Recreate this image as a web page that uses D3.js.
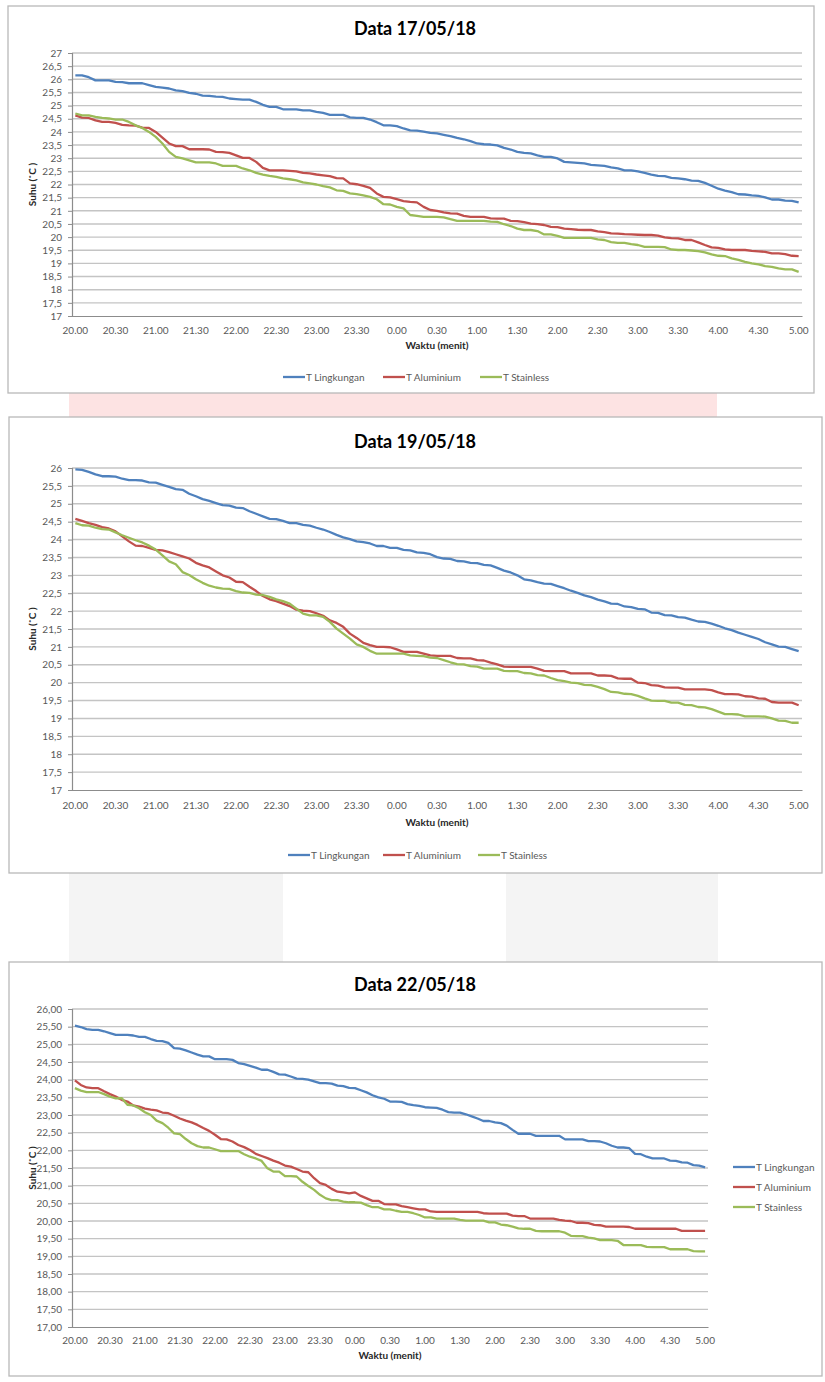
<!DOCTYPE html>
<html>
<head>
<meta charset="utf-8">
<script src="https://cdn.jsdelivr.net/npm/d3@7"></script>
<style>
  body { margin: 0; background: #ffffff; }
  svg { display: block; font-family: Lato, "Open Sans", "Liberation Sans", sans-serif; }
</style>
</head>
<body>
<svg id="page" width="825" height="1382"></svg>
<script>
// Time axis: one reading every 5 minutes from 20.00 to 05.00
const minutes = d3.range(0, 541, 5);
const tickLabels = ["20.00","20.30","21.00","21.30","22.00","22.30","23.00","23.30",
  "0.00","0.30","1.00","1.30","2.00","2.30","3.00","3.30","4.00","4.30","5.00"];

const seriesNames = ["T Lingkungan", "T Aluminium", "T Stainless"];
const seriesColors = ["#4F81BD", "#C0504D", "#9BBB59"];

// 17/05/18
const lingkungan17 = [
  26.15,26.15,26.08,25.96,25.96,25.96,25.90,25.89,25.85,25.85,25.85,25.78,
  25.71,25.68,25.65,25.58,25.55,25.48,25.45,25.38,25.37,25.34,25.33,25.27,
  25.25,25.23,25.23,25.14,25.03,24.95,24.95,24.86,24.86,24.86,24.82,24.82,
  24.76,24.72,24.65,24.65,24.65,24.55,24.53,24.53,24.47,24.37,24.25,24.25,
  24.22,24.13,24.06,24.05,24.01,23.96,23.94,23.89,23.84,23.77,23.72,23.65,
  23.56,23.53,23.52,23.49,23.39,23.33,23.24,23.20,23.18,23.11,23.05,23.05,
  22.99,22.86,22.84,22.82,22.80,22.75,22.73,22.71,22.65,22.61,22.54,22.54,
  22.50,22.44,22.38,22.33,22.32,22.25,22.23,22.20,22.15,22.14,22.06,21.95,
  21.84,21.77,21.71,21.63,21.62,21.59,21.57,21.51,21.43,21.43,21.39,21.38,
  21.32];
const aluminium17 = [
  24.63,24.54,24.53,24.44,24.38,24.38,24.34,24.27,24.25,24.24,24.16,24.15,
  24.00,23.78,23.56,23.46,23.46,23.34,23.34,23.34,23.33,23.24,23.23,23.20,
  23.11,23.01,23.01,22.86,22.63,22.54,22.54,22.54,22.52,22.50,22.44,22.42,
  22.38,22.35,22.32,22.24,22.23,22.04,22.01,21.95,21.87,21.66,21.53,21.51,
  21.44,21.37,21.34,21.32,21.15,21.03,21.00,20.94,20.90,20.89,20.81,20.77,
  20.77,20.77,20.71,20.70,20.70,20.62,20.61,20.57,20.51,20.49,20.46,20.39,
  20.38,20.32,20.30,20.28,20.27,20.27,20.22,20.19,20.14,20.13,20.11,20.10,
  20.09,20.08,20.08,20.06,19.99,19.96,19.95,19.89,19.89,19.80,19.70,19.61,
  19.59,19.53,19.51,19.51,19.51,19.48,19.46,19.44,19.38,19.38,19.35,19.29,
  19.28];
const stainless17 = [
  24.70,24.63,24.63,24.57,24.53,24.51,24.47,24.47,24.38,24.25,24.15,24.00,
  23.81,23.56,23.24,23.05,22.99,22.92,22.84,22.84,22.84,22.80,22.71,22.71,
  22.71,22.61,22.54,22.44,22.38,22.33,22.29,22.23,22.20,22.16,22.08,22.04,
  22.00,21.94,21.89,21.78,21.76,21.66,21.63,21.59,21.53,21.44,21.25,21.24,
  21.15,21.09,20.84,20.81,20.77,20.77,20.77,20.75,20.68,20.62,20.62,20.62,
  20.62,20.62,20.59,20.58,20.49,20.42,20.32,20.27,20.27,20.23,20.10,20.10,
  20.05,19.97,19.97,19.97,19.97,19.97,19.91,19.89,19.81,19.78,19.78,19.73,
  19.70,19.63,19.63,19.63,19.62,19.53,19.51,19.51,19.49,19.47,19.42,19.34,
  19.29,19.28,19.19,19.13,19.06,19.00,18.96,18.90,18.87,18.81,18.77,18.77,
  18.68];

// 19/05/18
const lingkungan19 = [
  25.96,25.95,25.89,25.82,25.77,25.77,25.76,25.70,25.66,25.66,25.65,25.60,
  25.59,25.53,25.47,25.41,25.39,25.28,25.21,25.13,25.08,25.02,24.96,24.95,
  24.89,24.88,24.79,24.72,24.65,24.58,24.57,24.52,24.46,24.46,24.41,24.39,
  24.33,24.28,24.21,24.13,24.06,24.01,23.95,23.93,23.89,23.82,23.82,23.77,
  23.77,23.71,23.70,23.64,23.63,23.59,23.51,23.47,23.46,23.40,23.39,23.35,
  23.34,23.29,23.28,23.21,23.13,23.08,23.00,22.89,22.86,22.81,22.77,22.76,
  22.70,22.64,22.57,22.51,22.44,22.39,22.32,22.27,22.21,22.20,22.13,22.11,
  22.06,22.05,21.96,21.95,21.89,21.88,21.83,21.82,21.76,21.71,21.70,21.65,
  21.59,21.52,21.47,21.40,21.34,21.28,21.22,21.13,21.07,21.01,21.00,20.94,
  20.88];
const aluminium19 = [
  24.58,24.52,24.46,24.41,24.35,24.31,24.23,24.09,23.95,23.83,23.82,23.77,
  23.71,23.70,23.65,23.59,23.53,23.47,23.35,23.28,23.22,23.11,23.00,22.94,
  22.82,22.81,22.68,22.56,22.42,22.33,22.28,22.21,22.14,22.04,22.01,22.00,
  21.94,21.87,21.74,21.67,21.56,21.37,21.25,21.11,21.05,21.00,21.00,20.99,
  20.93,20.86,20.86,20.86,20.81,20.76,20.75,20.75,20.75,20.69,20.68,20.68,
  20.63,20.62,20.56,20.51,20.45,20.44,20.44,20.44,20.44,20.39,20.33,20.32,
  20.32,20.32,20.26,20.26,20.26,20.26,20.20,20.20,20.19,20.12,20.11,20.11,
  20.00,19.99,19.93,19.92,19.87,19.86,19.86,19.81,19.81,19.81,19.81,19.79,
  19.73,19.68,19.68,19.67,19.62,19.61,19.56,19.55,19.46,19.44,19.44,19.44,
  19.37];
const stainless19 = [
  24.46,24.40,24.39,24.33,24.29,24.28,24.20,24.12,24.05,23.98,23.92,23.83,
  23.72,23.56,23.39,23.31,23.09,23.01,22.89,22.79,22.71,22.66,22.63,22.62,
  22.56,22.52,22.51,22.46,22.45,22.40,22.33,22.28,22.21,22.07,21.93,21.88,
  21.88,21.84,21.70,21.51,21.37,21.23,21.07,21.00,20.89,20.81,20.81,20.81,
  20.81,20.81,20.76,20.75,20.74,20.70,20.69,20.63,20.57,20.52,20.51,20.46,
  20.45,20.39,20.39,20.39,20.33,20.32,20.32,20.27,20.26,20.21,20.20,20.13,
  20.07,20.04,20.00,19.99,19.94,19.93,19.88,19.82,19.74,19.73,19.69,19.68,
  19.63,19.56,19.50,19.49,19.49,19.44,19.44,19.38,19.37,19.32,19.31,19.26,
  19.19,19.12,19.12,19.11,19.06,19.06,19.06,19.05,19.00,18.94,18.93,18.88,
  18.88];

// 22/05/18
const lingkungan22 = [
  25.53,25.49,25.43,25.41,25.41,25.37,25.32,25.27,25.27,25.27,25.25,25.21,
  25.21,25.15,25.10,25.09,25.04,24.89,24.88,24.83,24.77,24.71,24.66,24.66,
  24.58,24.58,24.58,24.56,24.47,24.44,24.39,24.34,24.28,24.28,24.22,24.15,
  24.14,24.09,24.03,24.02,24.00,23.95,23.90,23.90,23.89,23.83,23.82,23.77,
  23.76,23.70,23.64,23.56,23.50,23.46,23.38,23.38,23.37,23.31,23.28,23.26,
  23.22,23.21,23.20,23.15,23.08,23.07,23.07,23.02,22.96,22.90,22.83,22.83,
  22.79,22.77,22.70,22.58,22.47,22.47,22.47,22.41,22.41,22.41,22.41,22.41,
  22.31,22.31,22.31,22.31,22.26,22.26,22.25,22.20,22.13,22.08,22.08,22.06,
  21.90,21.89,21.82,21.77,21.77,21.77,21.71,21.70,21.66,21.65,21.58,21.57,
  21.52];
const aluminium22 = [
  23.98,23.85,23.78,23.76,23.76,23.67,23.59,23.52,23.43,23.38,23.27,23.24,
  23.18,23.15,23.13,23.07,23.05,22.98,22.90,22.84,22.79,22.72,22.63,22.55,
  22.44,22.32,22.31,22.25,22.15,22.09,22.01,21.90,21.84,21.78,21.71,21.65,
  21.57,21.54,21.47,21.40,21.38,21.21,21.07,21.02,20.91,20.83,20.81,20.78,
  20.81,20.71,20.64,20.57,20.57,20.48,20.47,20.47,20.42,20.39,20.36,20.33,
  20.33,20.27,20.26,20.26,20.26,20.26,20.26,20.26,20.26,20.26,20.22,20.21,
  20.21,20.21,20.21,20.15,20.14,20.14,20.07,20.07,20.07,20.07,20.07,20.03,
  20.01,20.00,19.95,19.95,19.94,19.89,19.88,19.84,19.84,19.84,19.84,19.83,
  19.78,19.78,19.78,19.78,19.78,19.78,19.78,19.78,19.72,19.72,19.72,19.72,
  19.72];
const stainless22 = [
  23.76,23.69,23.65,23.65,23.65,23.59,23.52,23.47,23.48,23.29,23.27,23.19,
  23.08,23.00,22.84,22.77,22.64,22.48,22.46,22.32,22.20,22.12,22.08,22.08,
  22.03,21.98,21.98,21.98,21.98,21.89,21.82,21.77,21.70,21.49,21.40,21.40,
  21.27,21.27,21.26,21.11,20.99,20.88,20.74,20.64,20.59,20.59,20.55,20.53,
  20.53,20.52,20.45,20.39,20.39,20.33,20.33,20.29,20.26,20.26,20.22,20.17,
  20.10,20.10,20.07,20.07,20.07,20.07,20.03,20.01,20.01,20.01,20.01,19.96,
  19.96,19.90,19.88,19.84,19.79,19.78,19.78,19.72,19.71,19.71,19.71,19.71,
  19.67,19.58,19.57,19.57,19.53,19.51,19.46,19.46,19.46,19.44,19.32,19.32,
  19.32,19.32,19.27,19.26,19.26,19.26,19.20,19.20,19.20,19.20,19.15,19.14,
  19.14];

// Layout of the three chart panels on the page
const panels = [
  { title: "Data 17/05/18", series: [lingkungan17, aluminium17, stainless17],
    box: { x0: 8, y0: 6, x1: 814, y1: 393 },
    plot: { left: 72, right: 802, top: 53, bottom: 316 },
    yMax: 27, decimals: 0, titleY: 35, xPad: 11, xTitleY: 349,
    legend: { mode: "row", y: 377, xs: [283, 383, 480] } },
  { title: "Data 19/05/18", series: [lingkungan19, aluminium19, stainless19],
    box: { x0: 9, y0: 417, x1: 822, y1: 873 },
    plot: { left: 72, right: 802, top: 468, bottom: 790 },
    yMax: 26, decimals: 0, titleY: 448, xPad: 11.5, xTitleY: 826,
    legend: { mode: "row", y: 855, xs: [288, 383, 478] } },
  { title: "Data 22/05/18", series: [lingkungan22, aluminium22, stainless22],
    box: { x0: 9, y0: 962, x1: 822, y1: 1376 },
    plot: { left: 72, right: 708, top: 1009, bottom: 1327 },
    yMax: 26, decimals: 2, titleY: 991, xPad: 10, xTitleY: 1359,
    legend: { mode: "column", x: 733, ys: [1167, 1187, 1207] } }
];

const svg = d3.select("#page");

// Page backdrop shapes showing around the panels
const backdrop = svg.append("g");
backdrop.append("rect").attr("x", 69).attr("y", 380).attr("width", 648).attr("height", 40)
  .attr("fill", "#fde3e3");
backdrop.append("rect").attr("x", 69).attr("y", 868).attr("width", 214).attr("height", 96)
  .attr("fill", "#f4f4f4");
backdrop.append("rect").attr("x", 506).attr("y", 868).attr("width", 212).attr("height", 96)
  .attr("fill", "#f4f4f4");

function commaFormat(decimals) {
  return v => (decimals ? v.toFixed(decimals) : String(v)).replace(".", ",");
}

function drawPanel(p) {
  const g = svg.append("g");
  const b = p.box, r = p.plot;

  g.append("rect")
    .attr("x", b.x0).attr("y", b.y0)
    .attr("width", b.x1 - b.x0).attr("height", b.y1 - b.y0)
    .attr("fill", "#ffffff").attr("stroke", "#b9b9b9").attr("stroke-width", 1.3);

  g.append("text")
    .attr("x", 415).attr("y", p.titleY)
    .attr("text-anchor", "middle")
    .attr("font-size", 18).attr("font-weight", 700).attr("fill", "#000")
    .text(p.title);

  const x = d3.scaleBand().domain(minutes).range([r.left, r.right]).padding(0);
  const y = d3.scaleLinear().domain([17, p.yMax]).range([r.bottom, r.top]);
  const yTicks = d3.range(17, p.yMax + 0.001, 0.5);
  const cx = m => x(m) + x.bandwidth() / 2;

  // horizontal gridlines
  g.append("g").selectAll("line").data(yTicks.filter(v => v > 17)).join("line")
    .attr("x1", r.left).attr("x2", r.right)
    .attr("y1", d => y(d)).attr("y2", d => y(d))
    .attr("stroke", "#c4c4c4").attr("stroke-width", 1.4);

  // y axis
  const yAxis = g.append("g").attr("transform", `translate(${r.left},0)`)
    .call(d3.axisLeft(y).tickValues(yTicks).tickSize(4).tickPadding(6)
      .tickFormat(commaFormat(p.decimals)));
  yAxis.select(".domain").attr("stroke", "#8c8c8c").attr("stroke-width", 1.2);
  yAxis.selectAll(".tick line").attr("stroke", "#8c8c8c");
  yAxis.selectAll("text").attr("font-size", 10).attr("fill", "#595959")
    .attr("font-family", "Lato, sans-serif");

  // x axis
  const xAxis = g.append("g").attr("transform", `translate(0,${r.bottom})`)
    .call(d3.axisBottom(x).tickValues(minutes.filter(m => m % 30 === 0))
      .tickSize(0).tickPadding(p.xPad)
      .tickFormat(m => tickLabels[m / 30]));
  xAxis.select(".domain").attr("stroke", "#8c8c8c").attr("stroke-width", 1.2);
  xAxis.selectAll("text").attr("font-size", 10).attr("fill", "#595959")
    .attr("font-family", "Lato, sans-serif");

  // axis titles
  g.append("text")
    .attr("x", (r.left + r.right) / 2).attr("y", p.xTitleY)
    .attr("text-anchor", "middle")
    .attr("font-size", 10).attr("font-weight", 700).attr("fill", "#262626")
    .text("Waktu (menit)");
  g.append("text")
    .attr("transform", `translate(36,${(r.top + r.bottom) / 2}) rotate(-90)`)
    .attr("text-anchor", "middle")
    .attr("font-size", 10).attr("font-weight", 700).attr("fill", "#262626")
    .text("Suhu (˚C )");

  // series lines
  const line = d3.line().x((v, i) => cx(minutes[i])).y(v => y(v));
  g.append("g").selectAll("path").data(p.series).join("path")
    .attr("d", line)
    .attr("fill", "none")
    .attr("stroke", (d, i) => seriesColors[i])
    .attr("stroke-width", 2.3)
    .attr("stroke-linejoin", "round");

  // legend
  const lg = g.append("g");
  seriesNames.forEach((name, i) => {
    const lx = p.legend.mode === "row" ? p.legend.xs[i] : p.legend.x;
    const ly = p.legend.mode === "row" ? p.legend.y : p.legend.ys[i];
    lg.append("line")
      .attr("x1", lx).attr("x2", lx + 22).attr("y1", ly).attr("y2", ly)
      .attr("stroke", seriesColors[i]).attr("stroke-width", 2.3);
    lg.append("text")
      .attr("x", lx + 23).attr("y", ly + 3.5)
      .attr("font-size", 10).attr("fill", "#595959")
      .text(name);
  });
}

panels.forEach(drawPanel);
</script>
</body>
</html>
